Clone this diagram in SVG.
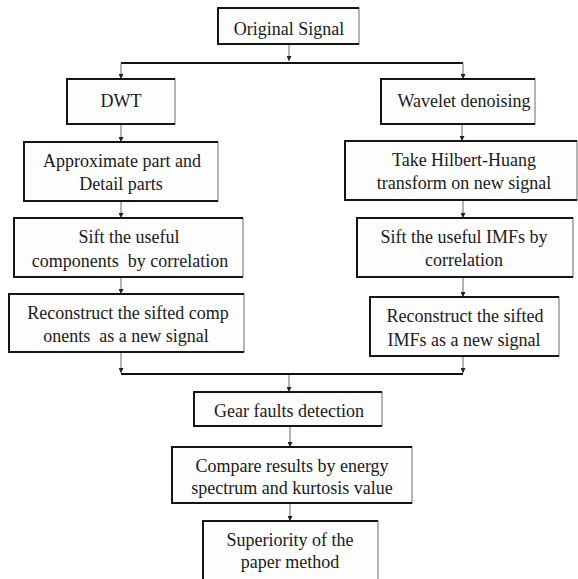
<svg xmlns="http://www.w3.org/2000/svg" width="578" height="579" viewBox="0 0 578 579">
<defs>
<style>
.box{fill:#fdfdfd;stroke:#6a6a6a;stroke-width:1}
.edge{fill:none;stroke:#151515;stroke-width:2}
.t{font-family:"Liberation Serif","Times New Roman",serif;font-size:18px;fill:#1a1a1a;text-anchor:middle}
.ar{stroke:#666;stroke-width:1;fill:none;marker-end:url(#ah)}
.bus{stroke:#111;stroke-width:2;fill:none}
</style>
<marker id="ah" markerWidth="6" markerHeight="5" refX="5" refY="2.5" orient="auto" markerUnits="userSpaceOnUse">
<path d="M0,0 L5,2.5 L0,5 Z" fill="#222"/>
</marker>
</defs>
<rect width="578" height="579" fill="#fff"/>

<g id="connectors">
<line class="ar" x1="289" y1="44" x2="289" y2="61"/>
<path class="bus" d="M121,63 H463"/>
<line class="ar" x1="121" y1="63" x2="121" y2="79"/>
<line class="ar" x1="463" y1="63" x2="463" y2="79"/>
<line class="ar" x1="121" y1="124" x2="121" y2="142"/>
<line class="ar" x1="121" y1="201" x2="121" y2="218"/>
<line class="ar" x1="121" y1="277" x2="121" y2="294"/>
<line class="ar" x1="121" y1="352" x2="121" y2="373"/>
<line class="ar" x1="462" y1="124" x2="462" y2="141"/>
<line class="ar" x1="463" y1="200" x2="463" y2="218"/>
<line class="ar" x1="463" y1="277" x2="463" y2="297"/>
<line class="ar" x1="463" y1="356" x2="463" y2="373"/>
<path class="bus" d="M121,374 H463"/>
<line class="ar" x1="289" y1="375" x2="289" y2="392"/>
<line class="ar" x1="290" y1="426" x2="290" y2="447"/>
<line class="ar" x1="290" y1="503" x2="290" y2="521"/>
</g>

<g id="n1">
<rect class="box" x="218" y="8" width="141" height="36"/>
<path class="edge" d="M359,8 H218 V44 H359"/>
<text class="t" x="289" y="35">Original Signal</text>
</g>

<g id="n2">
<rect class="box" x="67" y="79" width="108" height="45"/>
<path class="edge" d="M175,79 H67 V124 H175"/>
<text class="t" x="121" y="107">DWT</text>
</g>

<g id="n3">
<rect class="box" x="381" y="79" width="154" height="45"/>
<path class="edge" d="M535,79 H381 V124 H535"/>
<text class="t" x="464" y="107">Wavelet denoising</text>
</g>

<g id="n4">
<rect class="box" x="24" y="142" width="194" height="59"/>
<path class="edge" d="M218,142 H24 V201 H218"/>
<text class="t" x="122" y="167">Approximate part and</text>
<text class="t" x="121" y="190">Detail parts</text>
</g>

<g id="n5">
<rect class="box" x="345" y="141" width="232" height="59"/>
<path class="edge" d="M577,141 H345 V200 H577"/>
<text class="t" x="464" y="166">Take Hilbert-Huang</text>
<text class="t" x="464" y="189">transform on new signal</text>
</g>

<g id="n6">
<rect class="box" x="14" y="218" width="229" height="59"/>
<path class="edge" d="M243,218 H14 V277 H243"/>
<text class="t" x="129" y="243">Sift the useful</text>
<text class="t" x="130" y="267" xml:space="preserve">components  by correlation</text>
</g>

<g id="n7">
<rect class="box" x="357" y="218" width="216" height="59"/>
<path class="edge" d="M573,218 H357 V277 H573"/>
<text class="t" x="464" y="243">Sift the useful IMFs by</text>
<text class="t" x="464" y="266">correlation</text>
</g>

<g id="n8">
<rect class="box" x="9" y="294" width="235" height="58"/>
<path class="edge" d="M244,294 H9 V352 H244"/>
<text class="t" x="128" y="319">Reconstruct the sifted comp</text>
<text class="t" x="126" y="342" xml:space="preserve">onents  as a new signal</text>
</g>

<g id="n9">
<rect class="box" x="370" y="297" width="189" height="59"/>
<path class="edge" d="M559,297 H370 V356 H559"/>
<text class="t" x="465" y="322">Reconstruct the sifted</text>
<text class="t" x="464" y="346">IMFs as a new signal</text>
</g>

<g id="n10">
<rect class="box" x="194" y="392" width="188" height="34"/>
<path class="edge" d="M382,392 H194 V426 H382"/>
<text class="t" x="289" y="417">Gear faults detection</text>
</g>

<g id="n11">
<rect class="box" x="172" y="447" width="240" height="56"/>
<path class="edge" d="M412,447 H172 V503 H412"/>
<text class="t" x="292" y="472">Compare results by energy</text>
<text class="t" x="292" y="494">spectrum and kurtosis value</text>
</g>

<g id="n12">
<rect class="box" x="203" y="521" width="175" height="64"/>
<path class="edge" d="M378,521 H203 V585"/>
<text class="t" x="290" y="546">Superiority of the</text>
<text class="t" x="290" y="568">paper method</text>
</g>
</svg>
